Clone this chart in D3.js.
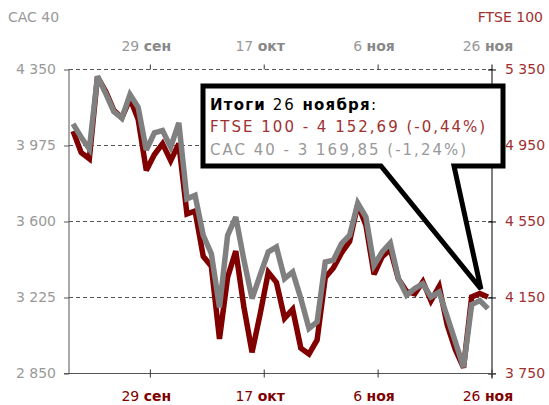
<!DOCTYPE html>
<html><head><meta charset="utf-8">
<script src="https://cdn.jsdelivr.net/npm/d3@7/dist/d3.min.js"></script>
<style>
body{margin:0;background:#fff;}
svg text{font-family:"DejaVu Sans",Verdana,sans-serif;}
</style></head>
<body><svg id="chart" width="549" height="405"></svg>
<script>
const dates = ["16.09","17.09","18.09","19.09","22.09","23.09","24.09","25.09","26.09","29.09","30.09",
"01.10","02.10","03.10","06.10","07.10","08.10","09.10","10.10","13.10","14.10","15.10","16.10","17.10",
"20.10","21.10","22.10","23.10","24.10","27.10","28.10","29.10","30.10","31.10",
"03.11","04.11","05.11","06.11","07.11","10.11","11.11","12.11","13.11","14.11",
"17.11","18.11","19.11","20.11","21.11","24.11","25.11","26.11"];
const ftse = [5025.6,4912.4,4880.0,5311.3,5236.3,5136.1,5095.6,5197.0,5088.5,4818.8,4902.5,
4959.6,4870.3,4960.0,4589.2,4605.2,4366.7,4313.8,3932.1,4256.9,4394.2,4100.0,3861.4,4063.0,
4282.7,4229.7,4040.9,4087.8,3883.4,3852.6,3926.4,4255.0,4305.0,4385.0,
4445.0,4639.5,4530.7,4272.4,4364.9,4403.9,4246.7,4182.0,4169.2,4233.0,
4132.2,4208.5,4005.7,3875.1,3781.0,4152.7,4171.3,4152.69];
const cac = [4082,4016,3958,4317,4233,4143,4110,4227,4164,3953,4038,
4049,3967,4087,3712,3729,3532,3441,3176,3532,3622,3410,3220,3336,
3450,3474,3318,3351,3220,3072,3105,3400,3409,3491,
3532,3690,3622,3384,3450,3494,3318,3236,3269,3293,
3228,3252,3130,3006,2881,3190,3210,3169.85];
const tickDates = ["29.09","17.10","06.11","26.11"];
const tickDay = ["29","17","6","26"];
const tickMonth = ["сен","окт","ноя","ноя"];
const leftTicks = [2850,3225,3600,3975,4350];
const rightTicks = [3750,4150,4550,4950,5350];
const seriesNames = ["CAC 40","FTSE 100"];
const noteTitle = ["Итоги"," 26 ","ноября",":"];
const noteLines = ["FTSE 100 - 4 152,69 (-0,44%)","CAC 40 - 3 169,85 (-1,24%)"];

const RED = "#800000", GRAY = "#808080", LGRAY = "#999999", RTXT = "#a03030";
const svg = d3.select("#chart");
const L = 69, R = 492, T = 69.5, B = 373.5;
const x = d3.scaleBand().domain(dates).range([L, R]).padding(0);
const bw = x.bandwidth();
const cx = d => x(d) + bw / 2;
const yL = d3.scaleLinear().domain([2850, 4350]).range([B, T]);
const yR = d3.scaleLinear().domain([3750, 5350]).range([B, T]);
const loc = d3.formatLocale({decimal: ",", thousands: " ", grouping: [3], currency: ["", ""]});
const fmt = loc.format(",d");

// gridlines
svg.append("g").selectAll("line").data(leftTicks.filter(v => v > 2850)).join("line")
  .attr("x1", L).attr("x2", R).attr("y1", d => yL(d)).attr("y2", d => yL(d))
  .attr("stroke", "#555").attr("stroke-width", 1).attr("stroke-dasharray", "4,3");

// left axis
const gL = svg.append("g").attr("transform", `translate(${L},0)`)
  .call(d3.axisLeft(yL).tickValues(leftTicks).tickFormat(fmt).tickSize(5).tickPadding(8));
gL.select(".domain").attr("stroke", "#555").attr("d", `M0,${T}V${B}`);
gL.selectAll(".tick line").attr("stroke", "#555");
gL.selectAll(".tick text").attr("fill", LGRAY).attr("font-size", 14)
  .attr("font-family", "DejaVu Sans");

// right axis
const gR = svg.append("g").attr("transform", `translate(${R},0)`)
  .call(d3.axisRight(yR).tickValues(rightTicks).tickFormat(fmt).tickSize(4).tickPadding(9));
gR.select(".domain").attr("stroke", "#000").attr("d", `M0,${T - 5}V${B + 5}`);
gR.selectAll(".tick line").attr("stroke", "#000").attr("x1", -4).attr("x2", 4);
gR.selectAll(".tick text").attr("fill", RTXT).attr("font-size", 14)
  .attr("font-family", "DejaVu Sans");

// bottom axis line + ticks
svg.append("line").attr("x1", L - 5).attr("x2", R + 4).attr("y1", B).attr("y2", B)
  .attr("stroke", "#555");
svg.append("g").selectAll("line").data(tickDates).join("line")
  .attr("x1", d => x(d) + bw).attr("x2", d => x(d) + bw).attr("y1", B - 4).attr("y2", B + 4)
  .attr("stroke", "#333");
// top ticks
svg.append("g").selectAll("line").data(tickDates.slice(0, 3)).join("line")
  .attr("x1", d => x(d) + bw).attr("x2", d => x(d) + bw).attr("y1", T - 5).attr("y2", T)
  .attr("stroke", "#333");

// date labels
function dateLabels(y, c1, c2) {
  const t = svg.append("g").selectAll("text").data(tickDates).join("text")
    .attr("x", d => cx(d)).attr("y", y).attr("text-anchor", "middle").attr("font-size", 14);
  t.append("tspan").attr("fill", c1).text((d, i) => tickDay[i] + " ");
  t.append("tspan").attr("fill", c2).attr("font-weight", "bold").text((d, i) => tickMonth[i]);
}
dateLabels(51, LGRAY, "#888");
dateLabels(401, RED, RED);

// series titles
svg.append("text").attr("x", 8).attr("y", 22).attr("font-size", 14).attr("fill", LGRAY).text(seriesNames[0]);
svg.append("text").attr("x", 543).attr("y", 22).attr("text-anchor", "end").attr("font-size", 14).attr("fill", RTXT).text(seriesNames[1]);

// lines
const lineR = d3.line().x((d, i) => cx(dates[i])).y(d => yR(d));
const lineL = d3.line().x((d, i) => cx(dates[i])).y(d => yL(d));
svg.append("path").datum(ftse).attr("d", lineR).attr("fill", "none")
  .attr("stroke", RED).attr("stroke-width", 5.5).attr("stroke-linejoin", "miter").attr("stroke-miterlimit", 3);
svg.append("path").datum(cac).attr("d", lineL).attr("fill", "none")
  .attr("stroke", GRAY).attr("stroke-width", 5.5).attr("stroke-linejoin", "miter").attr("stroke-miterlimit", 3);

// callout
const last = dates[dates.length - 1];
const tipX = cx(last) - 7, tipY = yR(ftse[ftse.length - 1]) - 8;
const bx0 = 203, bx1 = 503, by0 = 86, by1 = 166;
svg.append("path")
  .attr("d", `M${bx0},${by0}H${bx1}V${by1}H454L${tipX},${tipY}L381,${by1}H${bx0}Z`)
  .attr("fill", "#fff").attr("stroke", "#000").attr("stroke-width", 5).attr("stroke-linejoin", "miter");

const t1 = svg.append("text").attr("x", 210).attr("y", 110).attr("font-size", 15).attr("fill", "#000");
noteTitle.forEach((s, i) => {
  t1.append("tspan").attr("font-weight", i % 2 === 0 ? "bold" : "normal")
    .attr("letter-spacing", i % 2 === 0 ? 1.2 : 2).attr("xml:space", "preserve").text(s);
});
t1.attr("style", "white-space:pre");
svg.append("text").attr("x", 210).attr("y", 132).attr("font-size", 15).attr("letter-spacing", 2)
  .attr("fill", RTXT).text(noteLines[0]);
svg.append("text").attr("x", 210).attr("y", 155).attr("font-size", 15).attr("letter-spacing", 2)
  .attr("fill", LGRAY).text(noteLines[1]);
</script></body></html>
